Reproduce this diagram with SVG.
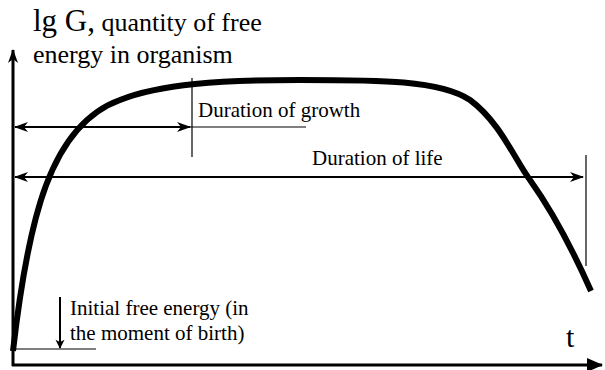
<svg xmlns="http://www.w3.org/2000/svg" width="605" height="370" viewBox="0 0 605 370">
<style>
.axis{stroke:#000;stroke-width:3;fill:none}
.arr{stroke:#000;stroke-width:2;fill:none}
.thin{stroke:#000;stroke-width:1.2;fill:none}
.curve{stroke:#000;stroke-width:6;fill:none}
</style>
<defs>
<marker id="stealth" viewBox="0 0 14 10" refX="13" refY="5" markerWidth="14" markerHeight="10" markerUnits="userSpaceOnUse" orient="auto-start-reverse">
<path d="M0,0 L14,5 L0,10 L4,5 Z" fill="#000"/>
</marker>
<marker id="big" viewBox="0 0 16 14" refX="15" refY="7" markerWidth="16" markerHeight="14" markerUnits="userSpaceOnUse" orient="auto">
<path d="M0,0 L16,7 L0,14 Z" fill="#000"/>
</marker>
<marker id="down" viewBox="0 0 12 16" refX="11" refY="6" markerWidth="16" markerHeight="12" markerUnits="userSpaceOnUse" orient="auto">
<path d="M0,0 L12,6 L0,12 L3,6 Z" fill="#000"/>
</marker>
</defs>
<g id="connectors">
<line id="y-axis" class="axis" x1="13" y1="366" x2="13" y2="50" marker-end="url(#stealth)"/>
<line id="x-axis" class="axis" x1="12" y1="365" x2="602" y2="365" marker-end="url(#big)"/>
<path id="curve" class="curve" d="M13,351 C28,220 50,125 120,100 C160,84 220,80 300,80 C380,80 440,80 470,100 C500,122 515,160 530,180 C555,215 575,255 591,291"/>
<line id="growth-arrow" class="arr" x1="15" y1="127" x2="190" y2="127" marker-start="url(#stealth)" marker-end="url(#stealth)"/>
<line id="life-arrow" class="arr" x1="15" y1="177" x2="583" y2="177" marker-start="url(#stealth)" marker-end="url(#stealth)"/>
<line class="thin" x1="192" y1="78" x2="192" y2="157"/>
<line class="thin" x1="190" y1="127" x2="306" y2="127"/>
<line class="thin" x1="586" y1="155" x2="586" y2="266"/>
<line class="thin" x1="14" y1="349" x2="96" y2="349"/>
<line id="initial-arrow" class="arr" x1="60" y1="297" x2="60" y2="348" marker-end="url(#down)"/>
</g>
<g font-family="'Liberation Serif', 'DejaVu Serif', serif" fill="#000">
<g id="title">
<text x="33" y="31"><tspan font-size="31">lg G,</tspan><tspan font-size="26"> quantity of free</tspan></text>
<text x="33" y="63" font-size="26">energy in organism</text>
</g>
<g id="growth-label"><text x="198" y="117" font-size="21">Duration of growth</text></g>
<g id="life-label"><text x="312" y="165" font-size="21">Duration of life</text></g>
<g id="initial-label">
<text x="70" y="315" font-size="21">Initial free energy (in</text>
<text x="70" y="340" font-size="21">the moment of birth)</text>
</g>
<g id="t-label"><text x="566" y="347" font-size="30">t</text></g>
</g>
</svg>
